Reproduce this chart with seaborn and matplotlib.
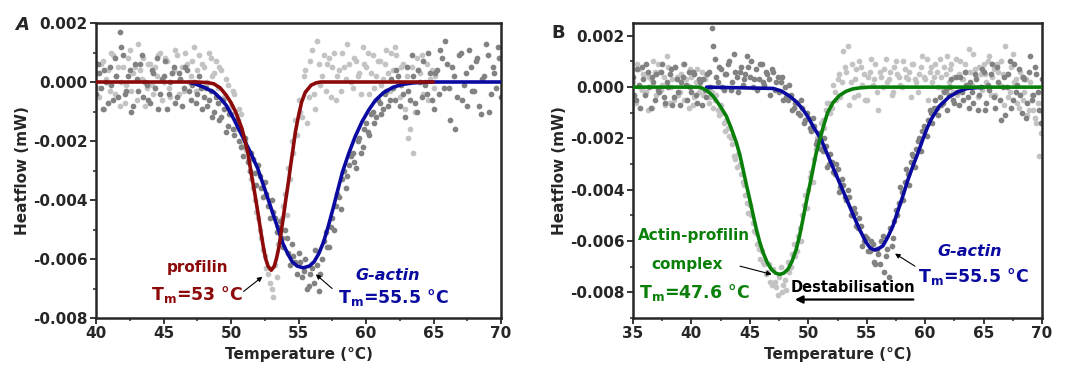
import numpy as np
import pandas as pd
import matplotlib
matplotlib.use("Agg")
import matplotlib.pyplot as plt
import seaborn as sns
from matplotlib.ticker import MultipleLocator, FuncFormatter

sns.set_style("ticks")
plt.rcParams['font.family'] = ['DejaVu Sans']
plt.rcParams['axes.unicode_minus'] = False
plt.rcParams['mathtext.default'] = 'bf'

# ---------------- data (heat flow in microwatt) ----------------
# Panel A, profilin scan (light grey), 0.25 degC steps from 40 degC, two interleaved lanes
a_prof_lane1 = [0.3, -0.5, 0.7, 0.1, -0.3, 0.9, 0.2, -0.8, 0.5, -0.1, 1.1, 0.3, -0.6, 0.4, 0.8, -0.2,
                0.6, -0.4, 0.2, 1.0, 0.0, 0.7, -0.5, 0.4, 0.9, 0.1, -0.3, 0.6, 0.2, 1.2, 0.4, -0.2,
                0.5, 0.0, 0.8, 0.3, -0.2, 0.4, -0.5, -0.1, -0.8, -0.4, -1.3, -1.1, -2.0, -2.6, -3.3, -4.0,
                -4.6, -5.3, -5.9, -6.5, -7.0, -6.2, -5.5, -4.6, -3.8, -2.9, -2.0, -1.3, -0.6, -1.2, 0.4, -0.5,
                1.1, -0.9, 0.6, 0.2, -0.3, 0.8, 0.5, -0.6, 0.4, 1.0, 0.1, 0.6, -0.2, 0.7, 0.3, 1.2,
                0.5, -0.4, 0.9, 0.2, 0.7, 0.1, 1.1, -0.3, 0.4, 0.9, -0.5, 0.6, 0.2, -1.6, -2.4, 0.8,
                0.3, -0.4, 0.6, 0.1, -0.2]
a_prof_lane2 = [-0.2, 0.6, -0.9, 0.4, 1.0, -0.4, 0.5, 0.0, -0.7, 0.8, -0.3, 0.5, 1.3, 0.1, -0.8, 0.6,
                -0.1, 0.5, 0.9, -0.6, 0.8, -0.2, 0.3, 1.1, -0.4, 0.5, 1.0, 0.0, 0.7, -0.3, 0.9, 0.6,
                -0.1, 1.0, 0.2, 0.7, 0.5, -0.6, 0.1, -0.9, -0.3, -1.6, -0.9, -2.1, -2.3, -3.0, -3.6, -4.4,
                -5.0, -5.7, -6.3, -6.8, -7.3, -6.6, -5.1, -4.2, -4.5, -3.3, -2.4, -1.8, -1.0, 0.2, -1.4, 0.7,
                -0.4, 1.4, -0.1, 0.9, 0.6, -0.5, 1.0, 0.2, -0.3, 0.5, 1.3, 0.0, 0.8, 0.2, -0.4, 0.6,
                1.0, 0.3, -0.2, 0.7, -0.1, 0.6, 0.3, 1.0, 1.2, 0.0, 0.5, -0.9, -1.9, 0.5, -1.0, 0.4,
                0.9, 0.0, -0.6, 0.4, 0.2]
# Panel A, G-actin scan (dark grey), 0.25 degC steps from 40 degC
a_actin_lane1 = [-0.4, 0.3, -0.9, 0.0, 0.5, -0.6, 0.2, 1.7, 0.9, -0.3, 0.4, -0.8, 0.1, 0.6, -0.5, -0.1,
                 -0.7, 0.3, 0.8, -0.4, 0.2, -0.9, 0.0, 0.5, -0.5, 0.1, -0.2, 0.4, -0.6, 0.0, -0.4, -0.2,
                 -0.5, -0.8, -0.3, -1.0, -0.7, -1.2, -0.9, -1.5, -1.1, -1.8, -1.5, -2.2, -1.9, -2.7, -2.4, -3.1,
                 -2.8, -3.6, -3.4, -4.2, -4.0, -4.6, -4.9, -5.3, -5.0, -5.8, -5.5, -6.1, -5.8, -6.6, -6.0, -6.9,
                 -6.3, -5.7, -7.1, -6.0, -5.1, -5.6, -4.6, -4.2, -3.9, -3.3, -3.6, -2.8, -2.4, -2.9, -1.9, -2.2,
                 -1.4, -1.8, -1.0, -1.2, -0.7, -0.9, -0.3, -0.6, -0.2, 0.4, -0.8, -0.4, 0.5, -0.6, 0.2, -1.0,
                 0.0, 0.7, -0.4, 0.3, -0.9, 0.4, 1.1, -0.2, 0.6, -1.3, 0.2, -0.5, 1.0, -0.1, -0.8, 0.5,
                 -0.3, 0.8, -1.1, 0.2, 0.9, -0.4, 0.3, 1.2, -0.5]
a_actin_lane2 = [0.6, -0.2, 0.4, -0.7, -0.1, 0.8, -0.5, 1.2, -0.4, 0.2, -1.0, 0.6, -0.3, 0.9, 0.0, -0.6,
                 0.4, -0.2, -0.9, 0.1, 0.7, -0.4, 0.3, -0.7, 0.3, -0.8, 0.5, -0.3, -0.1, -0.7, 0.2, -0.9,
                 -0.2, -0.6, -1.2, -0.5, -1.3, -0.6, -1.7, -1.1, -1.6, -1.3, -2.0, -2.5, -2.2, -3.0, -2.6, -3.5,
                 -3.2, -3.9, -3.8, -4.6, -4.4, -5.1, -4.7, -5.6, -5.3, -6.2, -5.9, -6.5, -6.1, -6.4, -7.0, -6.5,
                 -6.8, -6.2, -6.5, -5.4, -5.6, -4.9, -5.0, -3.8, -4.3, -3.0, -3.2, -2.5, -2.7, -2.0, -2.4, -1.6,
                 -1.7, -1.1, -1.4, -0.6, -1.1, -0.4, -0.8, 0.1, -0.6, 0.2, -0.1, -1.2, -0.3, 0.9, -0.7, 0.4,
                 -0.5, -0.1, 1.0, -0.6, 0.3, -0.4, 0.8, 1.4, -0.2, 0.5, -1.6, 0.9, -0.6, 0.3, 1.1, -0.3,
                 0.7, -0.8, 0.1, 1.3, -1.0, 0.5, -0.2, 0.8, 0.2]
# Panel A fitted curves
a_prof_fit_T = [40, 47.5, 48.25, 48.72, 49.2, 49.65, 50.0, 50.35, 50.81, 51.05, 51.28, 51.5, 51.74, 52.0,
                52.21, 52.4, 52.56, 52.75, 52.98, 53.2, 53.37, 53.55, 53.72, 53.9, 54.07, 54.25, 54.42,
                54.6, 54.77, 55.0, 55.23, 55.5, 55.93, 56.3, 56.63, 65.0]
a_prof_fit = [0, 0, -0.02, -0.06, -0.2, -0.45, -0.7, -1.02, -1.58, -2.0, -2.48, -3.1, -3.72, -4.45,
              -5.08, -5.6, -5.98, -6.25, -6.38, -6.25, -5.98, -5.6, -5.08, -4.5, -3.95, -3.4, -2.82,
              -2.25, -1.69, -1.15, -0.68, -0.35, -0.11, -0.03, 0, 0]
a_actin_fit_T = [47.0, 47.33, 48.0, 48.72, 49.2, 49.65, 50.2, 50.81, 51.4, 51.98, 52.55, 53.14, 53.5,
                 53.84, 54.2, 54.53, 54.9, 55.35, 55.8, 56.16, 56.5, 56.86, 57.2, 57.56, 57.9, 58.26,
                 58.7, 59.2, 59.7, 60.2, 60.7, 61.3, 62.0, 62.7, 63.5, 64.5, 70.0]
a_actin_fit = [-0.03, -0.06, -0.18, -0.34, -0.55, -0.79, -1.25, -1.81, -2.35, -2.93, -3.7, -4.51, -5.0,
               -5.47, -5.82, -6.09, -6.24, -6.3, -6.24, -6.09, -5.82, -5.42, -4.9, -4.29, -3.68, -3.05,
               -2.45, -1.85, -1.35, -0.95, -0.62, -0.36, -0.18, -0.08, -0.03, 0, 0]

# Panel B, actin-profilin complex scan (light grey), 0.25 degC steps from 35 degC
b_cplx_lane1 = [0.2, -0.6, 0.7, -0.1, 0.5, -0.9, 0.3, 1.0, -0.3, 0.6, 0.1, -0.7, 0.8, 0.0, -0.5, 0.4,
                -0.2, 0.9, 0.3, -0.8, 0.4, -0.4, 0.7, 0.0, -0.3, 0.5, -0.6, -0.2, -0.5, -0.9, -0.7, -1.4,
                -1.3, -1.9, -2.2, -2.8, -2.6, -3.4, -3.8, -4.5, -4.6, -5.3, -5.7, -6.3, -6.4, -6.9, -7.2, -7.6,
                -7.1, -7.8, -7.4, -8.0, -7.5, -6.8, -7.0, -6.1, -6.4, -5.5, -5.0, -4.2, -4.0, -3.3, -2.8, -2.0,
                -1.8, -1.3, -0.9, -0.6, -0.8, -0.2, 0.3, -0.4, 1.4, 0.6, -0.7, 0.9, 0.3, -0.3, 0.8, 0.5,
                -0.5, 0.6, 0.1, 0.9, -0.9, 0.4, 0.7, 0.2, 0.6, -0.2, 1.0, 0.4, 0.0, 0.7, 0.3, -0.4,
                0.9, 0.2, 0.5, 1.2, 0.3, -0.5, 0.8, 0.4, 0.6, 1.1, -0.1, 0.5, 0.2, 0.9, 0.4, -0.3,
                1.0, 0.3, 0.6, 1.5, 0.1, 0.7, -0.4, 0.5, 0.9, 0.2, 1.2, 0.4, -0.3, 0.6, 1.0, -0.7,
                0.5, -0.2, 1.3, 0.3, -0.8, 0.4, -0.2, -1.1, 0.2, -0.9, -1.4, -2.7, -0.6]
b_cplx_lane2 = [-0.4, 0.9, 0.0, 0.5, -0.2, 0.4, -0.8, 0.6, 0.9, -0.1, 0.4, 1.2, -0.6, 0.3, 0.8, -0.3,
                0.5, -0.5, 0.1, 0.7, -0.7, 0.2, -0.2, 0.6, 0.3, -0.1, -0.4, -0.8, -0.3, -1.1, -1.0, -1.7,
                -1.6, -2.0, -2.7, -3.1, -3.0, -3.7, -4.2, -4.9, -5.0, -5.6, -6.1, -6.7, -6.8, -7.3, -6.9, -7.7,
                -7.6, -8.1, -7.0, -7.7, -7.9, -7.2, -6.5, -6.6, -5.8, -6.0, -4.6, -4.7, -3.5, -3.7, -2.4, -2.3,
                -1.4, -1.6, -0.6, -1.0, 0.1, -0.5, 0.5, 0.2, 0.8, 1.6, 0.2, -0.4, 0.7, 1.0, 0.1, -0.5,
                0.4, 1.1, 0.3, -0.2, 0.6, 0.0, 1.1, 0.3, -0.3, 0.8, 0.5, 0.1, 1.0, 0.4, 0.6, 0.9,
                0.3, -0.2, 0.8, 0.4, 1.1, 0.6, 0.2, 0.9, 0.0, 0.4, 0.8, 1.2, 0.7, -0.2, 1.1, 0.5,
                0.3, 0.9, 0.0, 0.6, 1.3, 0.4, 0.8, -0.1, 0.5, 1.0, -0.3, 0.7, 0.9, 0.1, 0.5, 1.6,
                -0.4, 0.8, 0.2, -0.6, 0.6, -0.5, 0.3, -0.9, -0.3, -1.2, -0.6, -1.8, -1.0]
# Panel B, G-actin scan (dark grey), 0.25 degC steps from 35 degC
b_actin_lane1 = [0.4, -0.5, 0.1, 0.8, -0.3, 0.6, -0.8, 0.2, 0.5, -0.2, 0.9, -0.6, 0.0, 0.7, -0.4, 0.3,
                 -0.7, 0.4, 0.1, 0.6, -0.2, 0.5, -0.6, 0.2, 0.3, -0.4, 0.6, 2.3, 1.1, 0.2, 0.7, -0.1,
                 0.5, 1.0, 0.2, 0.6, -0.2, 0.8, 0.3, 1.2, 0.4, 0.0, 0.7, 0.3, 0.9, 0.1, 0.5, -0.3,
                 0.6, 0.2, -0.2, 0.4, 0.0, -0.5, -0.3, -0.8, -0.6, -1.1, -0.8, -1.3, -1.2, -1.7, -1.5, -2.1,
                 -2.0, -2.5, -2.3, -3.0, -2.9, -3.4, -3.2, -3.9, -3.8, -4.4, -4.3, -5.0, -4.9, -5.5, -5.4, -6.0,
                 -5.9, -6.4, -6.1, -6.9, -6.5, -6.0, -7.2, -6.3, -5.5, -5.9, -4.8, -4.5, -4.1, -3.7, -3.4, -2.9,
                 -2.7, -2.4, -2.0, -1.7, -1.6, -1.3, -1.0, -0.8, -0.8, -0.4, -0.6, -0.1, -0.3, 0.3, -0.6, -0.2,
                 0.4, -0.5, 0.1, -0.8, -0.2, 0.5, -0.9, 0.0, 0.6, -0.6, -0.1, 0.9, -0.8, 0.2, -1.3, 0.4,
                 0.0, 1.0, -0.5, -0.2, 0.7, -1.0, 0.3, -0.6, 1.2, -0.3, 0.5, -0.9, 0.3]
b_actin_lane2 = [-0.3, 0.7, -0.8, 0.3, 0.9, 0.0, 0.4, -0.5, -0.1, 0.6, -0.4, 0.2, 0.5, -0.7, 0.8, -0.2,
                 0.2, 0.9, -0.5, 0.0, 0.6, -0.3, 0.3, -0.7, -0.1, 0.5, 0.0, 1.6, 0.4, 0.8, 0.0, 0.5,
                 0.9, -0.1, 1.3, 0.4, 0.6, 0.1, 0.5, 0.8, 1.0, 0.3, -0.1, 0.9, 0.2, 0.6, 0.3, 0.7,
                 -0.1, 0.4, 0.2, -0.5, -0.4, 0.1, -0.9, -0.6, -1.0, -0.5, -1.4, -1.0, -1.6, -1.2, -2.2, -1.8,
                 -2.4, -2.0, -3.1, -2.6, -3.3, -3.0, -4.1, -3.6, -4.3, -4.0, -5.0, -4.7, -5.4, -5.1, -6.2, -5.8,
                 -6.4, -6.0, -6.8, -6.3, -6.9, -5.8, -6.6, -7.4, -6.2, -5.2, -5.0, -3.9, -4.4, -3.2, -3.8, -2.6,
                 -3.1, -2.1, -2.5, -1.5, -1.9, -0.9, -1.4, -0.5, -1.1, -0.7, -0.2, -0.9, 0.0, -0.5, 0.4, -0.7,
                 -0.2, 0.6, -0.4, 0.2, -0.6, 0.3, -0.3, 0.7, -0.9, 0.1, 0.5, -0.4, 0.8, -0.5, 0.0, -1.1,
                 0.5, -0.8, 0.9, 0.1, -0.3, 0.4, -1.2, 0.6, -0.5, 0.8, -0.2, -1.4, 0.0]
# Panel B fitted curves
b_cplx_fit_T = [35, 40.7, 41.3, 41.85, 42.4, 42.99, 43.4, 43.85, 44.15, 44.42, 44.7, 44.99, 45.28, 45.56,
                45.85, 46.13, 46.5, 46.84, 47.2, 47.55, 47.9, 48.26, 48.6, 48.97, 49.25, 49.54, 49.82,
                50.11, 50.4, 50.68, 50.96, 51.25, 51.65, 52.11, 52.65, 53.25, 53.8, 54.39, 55.2, 70]
b_cplx_fit = [0, 0, -0.12, -0.35, -0.7, -1.13, -1.6, -2.17, -2.65, -3.21, -3.8, -4.38, -4.98, -5.55,
              -6.05, -6.45, -6.85, -7.1, -7.25, -7.3, -7.25, -7.1, -6.8, -6.32, -5.8, -5.16, -4.5,
              -3.86, -3.2, -2.56, -2.1, -1.6, -1.0, -0.61, -0.33, -0.16, -0.07, -0.03, 0, 0]
b_actin_fit_T = [41.3, 46.98, 47.7, 48.4, 49.0, 49.54, 50.0, 50.4, 51.1, 51.82, 52.25, 52.68, 53.1, 53.53,
                 53.96, 54.39, 54.96, 55.3, 55.67, 56.0, 56.38, 56.8, 57.24, 57.65, 58.09, 58.5, 58.95,
                 59.4, 59.8, 60.15, 60.51, 61.2, 62.0, 62.8, 63.6, 65.0]
b_actin_fit = [0, -0.05, -0.15, -0.35, -0.58, -0.87, -1.18, -1.52, -2.04, -2.82, -3.28, -3.73, -4.18, -4.64,
               -5.1, -5.55, -6.06, -6.27, -6.35, -6.3, -6.19, -5.85, -5.42, -4.85, -4.25, -3.65, -3.08,
               -2.55, -2.04, -1.62, -1.26, -0.75, -0.4, -0.18, -0.05, 0]


def lanes_frame(start, lane1, lane2):
    t1 = start + 0.25 * np.arange(len(lane1))
    t2 = start + 0.125 + 0.25 * np.arange(len(lane2))
    return pd.DataFrame({"T": np.concatenate([t1, t2]),
                         "hf": np.concatenate([lane1, lane2]) / 1000.0})


def fit_frame(t, v):
    return pd.DataFrame({"T": t, "hf": np.asarray(v) / 1000.0})


LIGHT = "#c3c3c3"
DARK = "#828282"
RED = "#8c0a0a"
BLUE = "#0a0aa0"
GREEN = "#0a800a"

fig = plt.figure(figsize=(10.65, 3.69), dpi=100)
axA = fig.add_axes([96 / 1065, 1 - 318 / 369, 405 / 1065, 295 / 369])
axB = fig.add_axes([633 / 1065, 1 - 318 / 369, 409 / 1065, 295 / 369])

ms = 17
sns.scatterplot(data=lanes_frame(40, a_prof_lane1, a_prof_lane2), x="T", y="hf", ax=axA,
                color=LIGHT, s=ms, linewidth=0, zorder=2)
sns.scatterplot(data=lanes_frame(40, a_actin_lane1, a_actin_lane2), x="T", y="hf", ax=axA,
                color=DARK, s=ms, linewidth=0, zorder=2)
sns.lineplot(data=fit_frame(a_actin_fit_T, a_actin_fit), x="T", y="hf", ax=axA, color=BLUE,
             lw=2.6, estimator=None, sort=False, zorder=3)
sns.lineplot(data=fit_frame(a_prof_fit_T, a_prof_fit), x="T", y="hf", ax=axA, color=RED,
             lw=2.6, estimator=None, sort=False, zorder=4)

sns.scatterplot(data=lanes_frame(35, b_cplx_lane1, b_cplx_lane2), x="T", y="hf", ax=axB,
                color=LIGHT, s=ms, linewidth=0, zorder=2)
sns.scatterplot(data=lanes_frame(35, b_actin_lane1, b_actin_lane2), x="T", y="hf", ax=axB,
                color=DARK, s=ms, linewidth=0, zorder=2)
sns.lineplot(data=fit_frame(b_actin_fit_T, b_actin_fit), x="T", y="hf", ax=axB, color=BLUE,
             lw=2.6, estimator=None, sort=False, zorder=3)
sns.lineplot(data=fit_frame(b_cplx_fit_T, b_cplx_fit), x="T", y="hf", ax=axB, color=GREEN,
             lw=2.6, estimator=None, sort=False, zorder=4)

fmt = FuncFormatter(lambda v, p: f"{v:.3f}".replace("-0.000", "0.000"))
for ax, (x0, x1), (y0, y1) in [(axA, (40, 70), (-0.008, 0.002)), (axB, (35, 70), (-0.009, 0.0025))]:
    ax.set_xlim(x0, x1)
    ax.set_ylim(y0, y1)
    ax.xaxis.set_major_locator(MultipleLocator(5))
    ax.xaxis.set_minor_locator(MultipleLocator(2.5))
    ax.yaxis.set_major_locator(MultipleLocator(0.002))
    ax.yaxis.set_minor_locator(MultipleLocator(0.001))
    ax.yaxis.set_major_formatter(fmt)
    for s in ax.spines.values():
        s.set_visible(True)
        s.set_linewidth(1.8)
    ax.tick_params(which="major", length=4, width=1.3, labelsize=11, pad=2)
    ax.tick_params(which="minor", length=2.5, width=1.1)
    for lab in ax.get_xticklabels() + ax.get_yticklabels():
        lab.set_fontweight("bold")
    ax.set_xlabel("Temperature (°C)", fontsize=11, fontweight="bold", labelpad=4)
    ax.set_ylabel("Heatflow (mW)", fontsize=11, fontweight="bold", labelpad=2)

# annotations panel A
axA.text(47.5, -0.0063, "profilin", color=RED, fontsize=11, fontweight="bold", ha="center", va="center")
axA.text(47.5, -0.0072, "T$_m$=53 °C", color=RED, fontsize=12.5, fontweight="bold", ha="center", va="center")
axA.text(61.6, -0.00655, "G-actin", color=BLUE, fontsize=11.5, fontweight="bold", fontstyle="italic",
         ha="center", va="center")
axA.text(62.0, -0.0073, "T$_m$=55.5 °C", color=BLUE, fontsize=12.5, fontweight="bold", ha="center", va="center")
arrow_thin = dict(arrowstyle="-|>", color="black", lw=0.8, mutation_scale=7, shrinkA=0, shrinkB=0)
axA.annotate("", xy=(52.33, -0.0066), xytext=(50.93, -0.0071), arrowprops=arrow_thin)
axA.annotate("", xy=(56.28, -0.00652), xytext=(57.49, -0.0070), arrowprops=arrow_thin)

# annotations panel B
axB.text(40.2, -0.0058, "Actin-profilin", color=GREEN, fontsize=11, fontweight="bold", ha="center", va="center")
axB.text(39.6, -0.0069, "complex", color=GREEN, fontsize=11, fontweight="bold", ha="center", va="center")
axB.text(40.3, -0.0080, "T$_m$=47.6 °C", color=GREEN, fontsize=12.5, fontweight="bold", ha="center", va="center")
axB.text(63.85, -0.0064, "G-actin", color=BLUE, fontsize=11.5, fontweight="bold", fontstyle="italic",
         ha="center", va="center")
axB.text(64.1, -0.00737, "T$_m$=55.5 °C", color=BLUE, fontsize=12.5, fontweight="bold", ha="center", va="center")
axB.text(53.85, -0.0078, "Destabilisation", color="black", fontsize=10.5, fontweight="bold", ha="center", va="center")
axB.annotate("", xy=(48.86, -0.00828), xytext=(58.99, -0.00828),
             arrowprops=dict(arrowstyle="-|>", color="black", lw=1.6, mutation_scale=11, shrinkA=0, shrinkB=0))
axB.annotate("", xy=(46.87, -0.0073), xytext=(44.16, -0.00698), arrowprops=arrow_thin)
axB.annotate("", xy=(57.42, -0.00649), xytext=(59.13, -0.00698), arrowprops=arrow_thin)

fig.text(22 / 1065, 1 - 25 / 369, "A", fontsize=13, fontweight="bold", fontstyle="italic", ha="center", va="center")
fig.text(558 / 1065, 1 - 33 / 369, "B", fontsize=13, fontweight="bold", ha="center", va="center")

fig.savefig("out.png", dpi=100)
